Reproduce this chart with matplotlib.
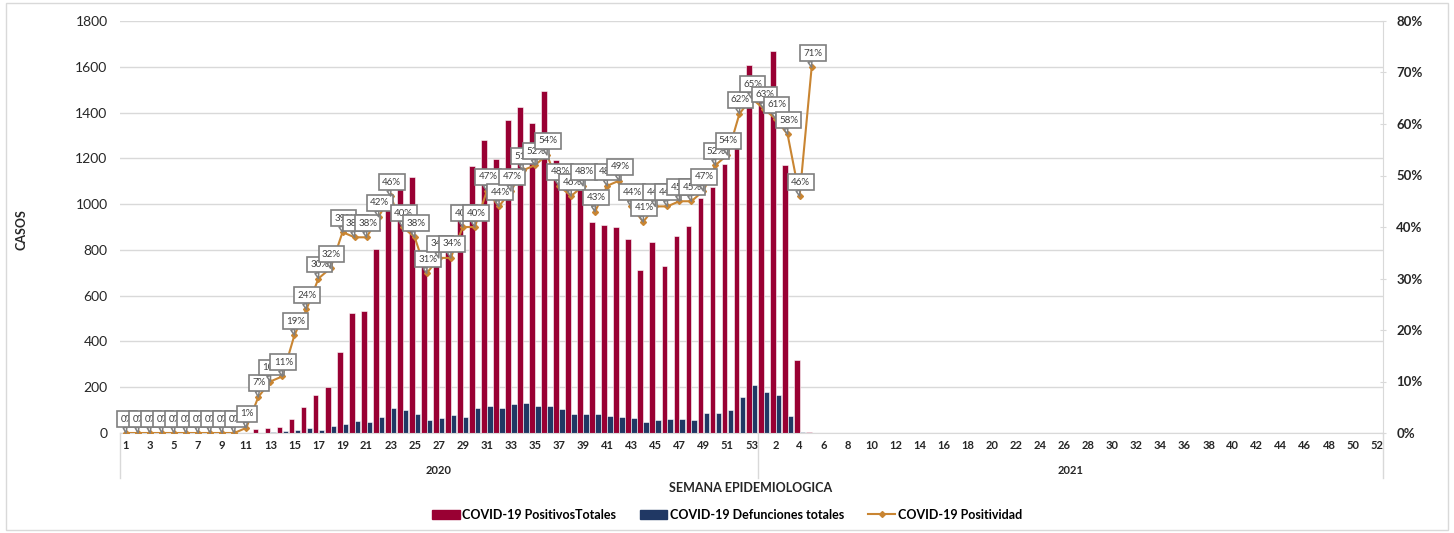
import matplotlib.pyplot as plt
import matplotlib.transforms as mtransforms
from matplotlib.patches import Patch, Rectangle
from matplotlib.lines import Line2D
import numpy as np

plt.rcParams["font.family"] = ["Lato", "DejaVu Sans"]

# semanas epidemiologicas: 53 de 2020 y 52 de 2021
semanas_2020 = list(range(1, 54))
semanas_2021 = list(range(1, 53))
etiquetas = [str(s) for s in semanas_2020 + semanas_2021]

positivos_2020 = [0, 0, 0, 0, 0, 0, 0, 0, 0, 0, 2, 16, 20, 25, 62, 112, 166, 202,
                  354, 523, 534, 802, 982, 1069, 1117, 738, 770, 790, 930, 1168,
                  1280, 1198, 1367, 1426, 1356, 1493, 1193, 1080, 1062, 923, 909,
                  900, 848, 714, 834, 728, 861, 904, 1025, 1076, 1174, 1244, 1606]
positivos_2021 = [1490, 1670, 1171, 318, 4]

defunciones_2020 = [0, 0, 0, 0, 0, 0, 0, 0, 0, 0, 0, 0, 3, 9, 12, 20, 12, 31, 39,
                    52, 49, 71, 111, 102, 83, 55, 66, 77, 68, 109, 118, 111, 125,
                    131, 118, 118, 106, 84, 84, 83, 74, 68, 67, 47, 58, 59, 61, 55,
                    88, 88, 102, 159, 210]
defunciones_2021 = [179, 167, 73, 3, 0]

positividad_2020 = [0, 0, 0, 0, 0, 0, 0, 0, 0, 0, 1, 7, 10, 11, 19, 24, 30, 32, 39,
                    38, 38, 42, 46, 40, 38, 31, 34, 34, 40, 40, 47, 44, 47, 51, 52,
                    54, 48, 46, 48, 43, 48, 49, 44, 41, 44, 44, 45, 45, 47, 52, 54,
                    62, 65]
positividad_2021 = [63, 61, 58, 46, 71]

n = len(etiquetas)


def completar(valores_2020, valores_2021):
    serie = np.full(n, np.nan)
    serie[:53] = valores_2020
    serie[53:53 + len(valores_2021)] = valores_2021
    return serie


positivos = completar(positivos_2020, positivos_2021)
defunciones = completar(defunciones_2020, defunciones_2021)
positividad = completar(positividad_2020, positividad_2021) / 100

ROJO = "#990033"
AZUL = "#203864"
NARANJA = "#C98532"
GRIS = "#D9D9D9"

fig = plt.figure(figsize=(14.54, 5.33), dpi=100)
ax = fig.add_axes([120 / 1454, 1 - 433 / 533, 1263 / 1454, 412 / 533])

x = np.arange(n)
ax.bar(x - 0.24, positivos, width=0.48, color=ROJO, edgecolor="white",
       linewidth=0.4, zorder=2)
ax.bar(x + 0.24, defunciones, width=0.46, color=AZUL, edgecolor="white",
       linewidth=0.4, zorder=2)

ax.set_xlim(-0.5, n - 0.5)
ax.set_ylim(0, 1800)
ax.set_yticks(range(0, 1801, 200))
ax.yaxis.grid(True, color=GRIS, linewidth=1, zorder=0)
ax.set_axisbelow(True)
ax.tick_params(axis="y", length=0, pad=9, labelsize=10, labelcolor="#262626")
ax.set_xticks(x[::2])
ax.set_xticklabels(etiquetas[::2], fontweight="bold", fontsize=8)
ax.tick_params(axis="x", length=0, pad=5, labelcolor="#262626")
for lado in ["left", "top", "right"]:
    ax.spines[lado].set_visible(False)
ax.spines["bottom"].set_color(GRIS)

# separadores y etiquetas de anio bajo el eje
trans = mtransforms.blended_transform_factory(ax.transData, ax.transAxes)
for xs in [-0.5, 52.5, n - 0.5]:
    ax.plot([xs, xs], [0, -0.11], transform=trans, color=GRIS, lw=1,
            clip_on=False)
ax.text(26, -0.09, "2020", transform=trans, ha="center", va="center",
        fontsize=8, fontweight="bold", color="#262626")
ax.text(78.5, -0.09, "2021", transform=trans, ha="center", va="center",
        fontsize=8, fontweight="bold", color="#262626")

# eje secundario con la positividad
ax2 = ax.twinx()
ax2.set_ylim(0, 0.8)
ax2.set_yticks(np.arange(0, 0.81, 0.1))
ax2.set_yticklabels([f"{int(round(t * 100))}%" for t in np.arange(0, 0.81, 0.1)],
                    fontweight="bold", fontsize=9.5)
ax2.tick_params(axis="y", direction="inout", length=5, color=GRIS, pad=7,
                labelcolor="#262626")
for lado in ["left", "top", "bottom"]:
    ax2.spines[lado].set_visible(False)
ax2.spines["right"].set_color(GRIS)

ax2.plot(x, positividad, color=NARANJA, lw=1.5, marker="D", markersize=3,
         zorder=3)

for xi, p in zip(x, positividad):
    if np.isnan(p):
        continue
    ax2.annotate(f"{int(round(p * 100))}%", xy=(xi, p), xytext=(1, 14),
                 textcoords="offset pixels", ha="center", va="center",
                 fontsize=7, color="#404040", zorder=4,
                 bbox=dict(boxstyle="square,pad=0.35", fc="white",
                           ec="#7F7F7F", lw=1.2),
                 arrowprops=dict(arrowstyle="wedge,tail_width=0.4",
                                 fc="white", ec="#7F7F7F", lw=1.1,
                                 relpos=(0.3, 0), shrinkA=0, shrinkB=0))

fig.text(22 / 1454, 1 - 230 / 533, "CASOS", rotation=90, ha="center",
         va="center", fontsize=9, fontweight="bold", color="#262626")
fig.text(751 / 1454, 1 - 488 / 533, "SEMANA EPIDEMIOLOGICA", ha="center",
         va="center", fontsize=9, fontweight="bold", color="#262626")

handles = [Patch(color=ROJO), Patch(color=AZUL),
           Line2D([], [], color=NARANJA, lw=1.5, marker="D", markersize=3)]
nombres = ["COVID-19 PositivosTotales", "COVID-19 Defunciones totales",
           "COVID-19 Positividad"]
fig.legend(handles, nombres, loc="center", bbox_to_anchor=(0.5, 1 - 515 / 533),
           ncol=3, frameon=False, fontsize=9, handlelength=2.2, handleheight=0.8,
           handletextpad=0.2, columnspacing=1.9,
           prop={"size": 9, "weight": "bold"})

fig.patches.append(Rectangle((0.004, 0.006), 0.992, 0.988,
                             transform=fig.transFigure, fill=False,
                             ec=GRIS, lw=1))

fig.savefig("out.png", dpi=100)
